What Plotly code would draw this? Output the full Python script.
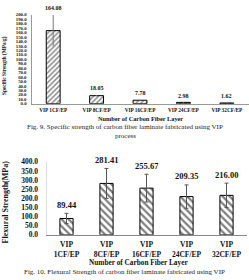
import plotly.graph_objects as go

categories = ["VIP 1CF/EP", "VIP 8CF/EP", "VIP 16CF/EP", "VIP 24CF/EP", "VIP 32CF/EP"]
cat2_text = ["VIP<br>1CF/EP", "VIP<br>8CF/EP", "VIP<br>16CF/EP", "VIP<br>24CF/EP", "VIP<br>32CF/EP"]
specific_strength = [164.08, 18.05, 7.78, 2.98, 1.62]
specific_err = [35.5, 1.5, 1.0, 0.8, 0.3]
flexural_strength = [89.44, 281.41, 255.67, 209.35, 216.00]
flexural_err = [28.0, 82.0, 76.0, 64.0, 67.0]
y1_ticks = [i * 10 for i in range(21)]
y2_ticks = [i * 50 for i in range(9)]

SERIF = "Liberation Serif"
H = 280.0

def py(p):
    return 1 - p / H

fig = go.Figure()
fig.add_trace(go.Bar(
    x=categories, y=specific_strength, xaxis="x", yaxis="y", width=0.32,
    marker=dict(color="white", line=dict(color="black", width=1),
                pattern=dict(shape="/", fgcolor="black", bgcolor="white", size=3.5, solidity=0.4)),
    error_y=dict(type="data", array=specific_err, color="#777", thickness=1, width=0),
    showlegend=False))
fig.add_trace(go.Bar(
    x=categories, y=flexural_strength, xaxis="x2", yaxis="y2", width=0.33,
    marker=dict(color="white", line=dict(color="black", width=1),
                pattern=dict(shape="\\", fgcolor="black", bgcolor="white", size=5, solidity=0.45)),
    error_y=dict(type="data", array=flexural_err, color="#555", thickness=1, width=2),
    showlegend=False))

ann = []
for c, v, e in zip(categories, specific_strength, specific_err):
    ann.append(dict(x=c, y=v + e, xref="x", yref="y", text=f"<b>{v:.2f}</b>", showarrow=False,
                    xanchor="center", yanchor="middle", yshift=6.5,
                    font=dict(family=SERIF, size=6, color="#111")))
for c, v, e in zip(categories, flexural_strength, flexural_err):
    ann.append(dict(x=c, y=v + e, xref="x2", yref="y2", text=f"<b>{v:.2f}</b>", showarrow=False,
                    xanchor="center", yanchor="middle", yshift=8.5,
                    font=dict(family=SERIF, size=8.5, color="#111")))

def pa(x, y, text, size, angle=0, color="#111"):
    return dict(x=x / 249, y=py(y), xref="paper", yref="paper", text=text, textangle=angle,
                showarrow=False, xanchor="center", yanchor="middle",
                font=dict(family=SERIF, size=size, color=color))

ann += [
    pa(5, 64, "<b>Specific Strength (MPa/g)</b>", 5.3, -90),
    pa(140, 118, "<b>Number of Carbon Fiber Layer</b>", 6.3),
    pa(125, 127, "Fig. 9. Specific strength of carbon fiber laminate fabricated using VIP", 7, 0, "#222"),
    pa(125, 136.5, "process", 7, 0, "#222"),
    pa(5, 205, "<b>Flexural Strength(MPa)</b>", 8, -90),
    pa(138, 267, "<b>Number of Carbon Fiber Layer</b>", 7.3),
    pa(124, 277, "Fig. 10. Flexural Strength of carbon fiber laminate fabricated using VIP", 7, 0, "#222"),
]

fig.update_layout(
    width=249, height=280, margin=dict(l=0, r=0, t=0, b=0),
    paper_bgcolor="white", plot_bgcolor="white", bargap=0.6,
    annotations=ann,
    xaxis=dict(domain=[31.5 / 249, 248.5 / 249], anchor="y", range=[-0.5, 4.5], tickangle=0,
               showline=True, linecolor="#999", linewidth=1, showgrid=False, ticks="",
               tickfont=dict(family=SERIF, size=5.3, color="#111", weight="bold"), ticklabelstandoff=1),
    yaxis=dict(domain=[py(103), py(11)], anchor="x", range=[0, 200], tickvals=y1_ticks,
               tickformat=".1f", showline=True, linecolor="#999", linewidth=1, showgrid=False,
               ticks="", zeroline=False, ticklabelstandoff=3,
               tickfont=dict(family=SERIF, size=4.8, color="#111", weight="bold")),
    xaxis2=dict(domain=[46.5 / 249, 246.5 / 249], anchor="y2", range=[-0.5, 4.5], tickangle=0,
                tickvals=categories, ticktext=cat2_text,
                showline=True, linecolor="#888", linewidth=1, showgrid=False, ticks="",
                tickfont=dict(family=SERIF, size=7.5, color="#111", weight="bold"), ticklabelstandoff=2),
    yaxis2=dict(domain=[py(238.5), py(163)], anchor="x2", range=[0, 400], tickvals=y2_ticks,
                tickformat=".1f", showline=True, linecolor="#ddd", linewidth=1,
                showgrid=False, ticks="", zeroline=False, ticklabelstandoff=6,
                tickfont=dict(family=SERIF, size=7.5, color="#111", weight="bold")),
)

fig.write_html("out.html")
